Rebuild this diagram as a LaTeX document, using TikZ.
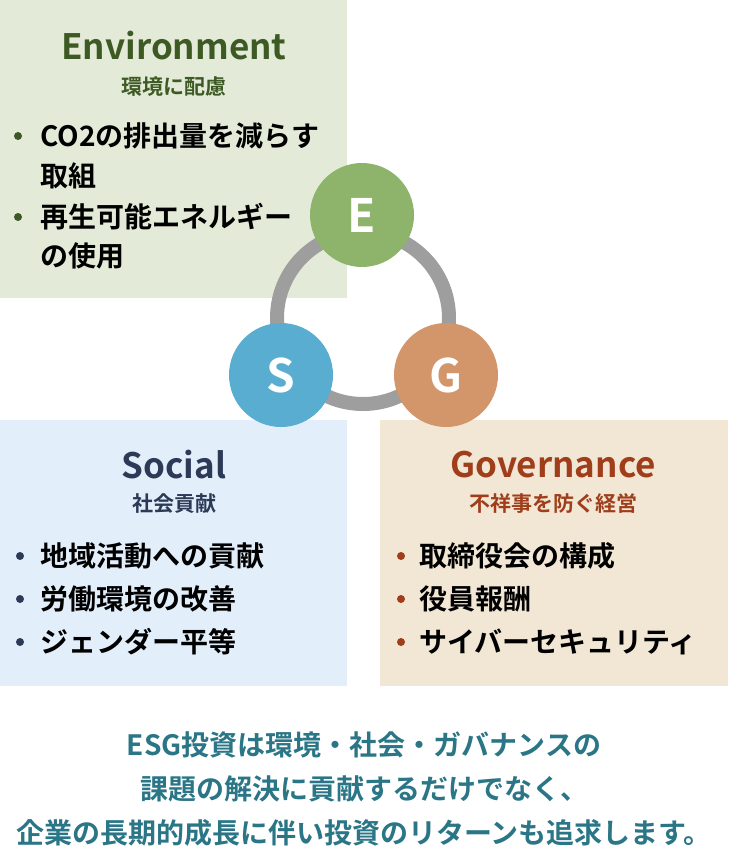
\documentclass[tikz,border=0pt]{standalone}
\usepackage{fontspec}
\setmainfont{Noto Sans CJK JP}[BoldFont={Noto Sans CJK JP Bold}]
\begin{document}
\begin{tikzpicture}[x=1pt,y=-1pt,
  ttl/.style={font=\bfseries\fontsize{35}{35}\selectfont},
  sub/.style={font=\bfseries\fontsize{21}{21}\selectfont},
  itm/.style={font=\bfseries\fontsize{28}{40}\selectfont,anchor=west,align=left,text width=310pt,inner sep=0pt},
  dot/.style={circle,inner sep=0pt,minimum size=8pt},
  big/.style={circle,minimum size=104pt,inner sep=0pt,text=white,font=\bfseries\fontsize{46}{46}\selectfont},
  btm/.style={font=\bfseries\fontsize{28}{28}\selectfont,text=tealc}]
\definecolor{envbg}{HTML}{E3EBD8}\definecolor{socbg}{HTML}{E2EEFA}\definecolor{govbg}{HTML}{F1E7D4}
\definecolor{envc}{HTML}{3E5A24}\definecolor{socc}{HTML}{2C3A58}\definecolor{govc}{HTML}{A03E1C}
\definecolor{ec}{HTML}{8DB46A}\definecolor{sc}{HTML}{58ADD0}\definecolor{gc}{HTML}{D3956A}
\definecolor{tealc}{HTML}{2A7686}
\useasboundingbox (0,0) rectangle (728,853);
\fill[envbg] (0,0) rectangle (347,298);
\fill[socbg] (0,420) rectangle (347,686);
\fill[govbg] (380,420) rectangle (728,686);
\node[ttl,text=envc] (et) at (174,46) {Environment};
\node[sub,text=envc] (es) at (174,87) {環境に配慮};
\node[dot,fill=envc] (ed1) at (18,136) {};
\node[itm] (ei1) at (40,136) {CO2の排出量を減らす};
\node[itm] (ei1b) at (40,176) {取組};
\node[dot,fill=envc] (ed2) at (18,217) {};
\node[itm] (ei2) at (40,217) {再生可能エネルギー};
\node[itm] (ei2b) at (40,256) {の使用};
\node[ttl,text=socc] (st) at (174,465) {Social};
\node[sub,text=socc] (ss) at (174,504) {社会貢献};
\foreach \t [count=\i] in {地域活動への貢献,労働環境の改善,ジェンダー平等}{
  \node[dot,fill=socc] (sd\i) at (20,556+43*\i-43) {};
  \node[itm] (si\i) at (40,556+43*\i-43) {\t};}
\node[ttl,text=govc] (gt) at (553,465) {Governance};
\node[sub,text=govc] (gs) at (553,504) {不祥事を防ぐ経営};
\foreach \t [count=\i] in {取締役会の構成,役員報酬,サイバーセキュリティ}{
  \node[dot,fill=govc] (gd\i) at (401,556+43*\i-43) {};
  \node[itm] (gi\i) at (419,556+43*\i-43) {\t};}
\draw[line width=14pt,draw=black!38] (363,318) circle (86);
\node[big,fill=ec] (E) at (362,215) {E};
\node[big,fill=sc] (S) at (281,375) {S};
\node[big,fill=gc] (G) at (446,375) {G};
\node[btm] (b1) at (364,745) {ESG投資は環境・社会・ガバナンスの};
\node[btm] (b2) at (364,789) {課題の解決に貢献するだけでなく、};
\node[btm] (b3) at (364,833) {企業の長期的成長に伴い投資のリターンも追求します。};
\end{tikzpicture}
\end{document}
